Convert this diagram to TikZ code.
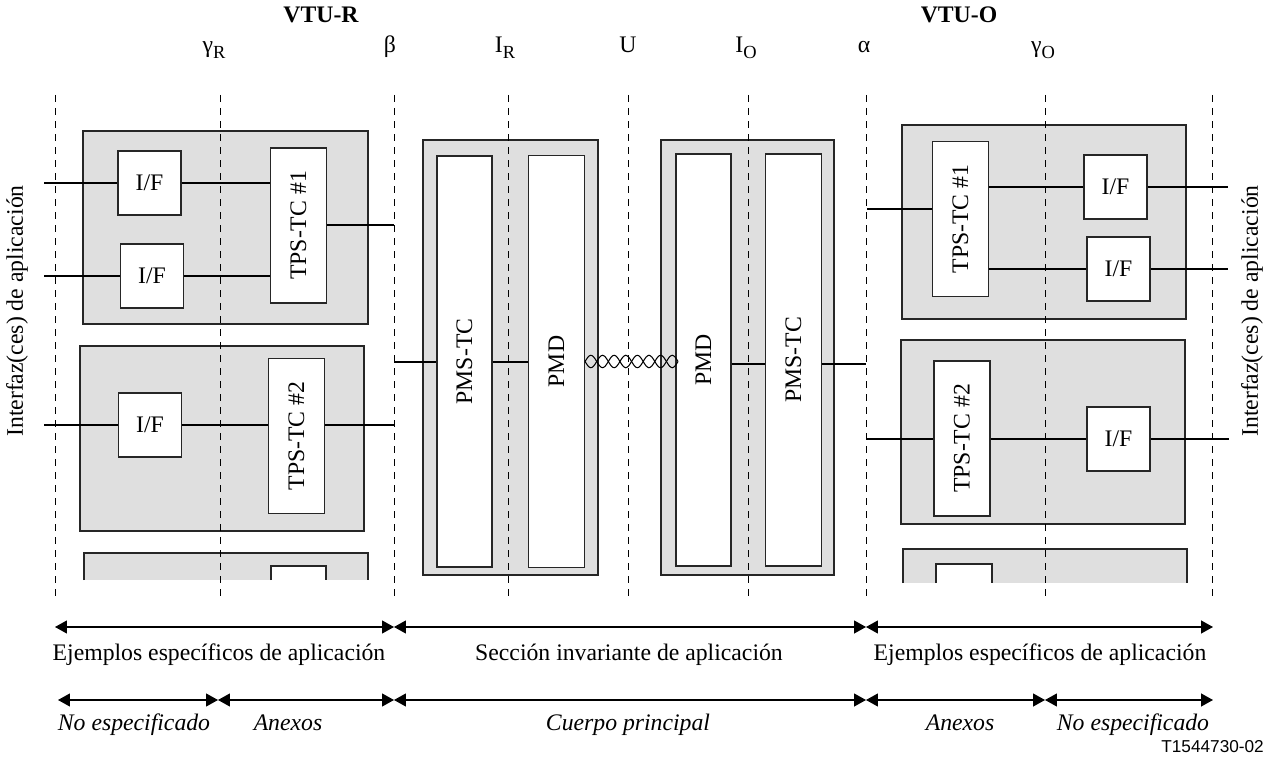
\documentclass[tikz,border=0pt]{standalone}
\usepackage{fontspec}
\setmainfont{Liberation Serif}
\newfontfamily\codefont{Liberation Sans}
\usepackage{graphicx}
\usetikzlibrary{arrows.meta, positioning}
\definecolor{boxgray}{HTML}{DFDFDF}
\newcommand{\vt}[1]{\rotatebox{90}{#1}}
\newcommand{\reflab}[2]{#1\raisebox{-0.55ex}{\fontsize{10.5}{10.5}\selectfont #2}}

\begin{document}
\begin{tikzpicture}[x=0.02cm, y=-0.02cm,
  font=\fontsize{13.5}{16}\selectfont,
  grp/.style={draw=black!85, fill=boxgray, line width=0.8pt, inner sep=0pt},
  cut/.style={draw=black!85, line width=0.8pt},
  blk/.style={draw=black!85, fill=white, line width=0.8pt, inner sep=0pt},
  ifbox/.style={blk, minimum width=1.26cm, minimum height=1.28cm},
  tpsbox/.style={blk, minimum width=1.12cm, minimum height=3.1cm},
  wire/.style={line width=0.7pt},
  guide/.style={line width=0.5pt, dash pattern=on 4pt off 3.4pt},
  txt/.style={anchor=base},
  scopetxt/.style={anchor=base, font=\fontsize{13.5}{16}\selectfont\itshape},
  dimline/.style={line width=0.6pt, {Triangle[length=6.8pt,width=7.4pt]}-{Triangle[length=6.8pt,width=7.4pt]}}]
\useasboundingbox (0,0) rectangle (1276,760);

% shaded groups
\node[grp, minimum width=5.7cm, minimum height=3.86cm] (grp_a) at (225.5,227.5) {};
\node[grp, minimum width=5.68cm, minimum height=3.7cm] (grp_b) at (222,438.5) {};
\node[grp, minimum width=3.5cm, minimum height=8.7cm] (sh_r) at (510.5,357.5) {};
\node[grp, minimum width=3.46cm, minimum height=8.7cm] (sh_o) at (747.5,357.5) {};
\node[grp, minimum width=5.68cm, minimum height=3.88cm] (grp_d) at (1044,222) {};
\node[grp, minimum width=5.68cm, minimum height=3.68cm] (grp_e) at (1043,432) {};
\fill[boxgray] (84,553) rectangle (368,580);
\draw[cut] (84,580) |- (368,553) -- (368,580);
\fill[white] (271,566) rectangle (326,580);
\draw[cut] (271,580) |- (326,566) -- (326,580);
\fill[boxgray] (903,549) rectangle (1187,583);
\draw[cut] (903,583) |- (1187,549) -- (1187,583);
\fill[white] (936,564) rectangle (992,583);
\draw[cut] (936,583) |- (992,564) -- (992,583);

% reference points
\foreach \x/\n in {55/g_0, 220/g_r, 394/beta, 508/i_r, 628/u, 748/i_o, 866/alpha, 1045/g_o, 1212/g_1}
  \draw[guide] (\x,95) coordinate (\n) -- (\x,602);
\node[txt] (l_gr) at (214,53) {\reflab{γ}{R}};
\node[txt] (l_beta) at (390,53) {β};
\node[txt] (l_ir) at (505,53) {\reflab{I}{R}};
\node[txt] (l_u) at (628,53) {U};
\node[txt] (l_io) at (746,53) {\reflab{I}{O}};
\node[txt] (l_alpha) at (864,53) {α};
\node[txt] (l_go) at (1043,53) {\reflab{γ}{O}};
\node[txt, font=\fontsize{13.5}{16}\selectfont\bfseries] (vtu_r) at (321,23) {VTU-R};
\node[txt, font=\fontsize{13.5}{16}\selectfont\bfseries] (vtu_o) at (959,23) {VTU-O};

% VTU-R side
\node[ifbox] (if_a1) at (149.5,183) {I/F};
\node[ifbox] (if_a2) at (152,276) {I/F};
\node[tpsbox] (tps_a1) at (298.5,225.5) {\vt{TPS-TC \#1}};
\node[ifbox] (if_b) at (150,425) {I/F};
\node[tpsbox] (tps_b) at (296.5,436) {\vt{TPS-TC \#2}};
\node[blk, minimum width=1.1cm, minimum height=8.22cm] (pms_r) at (464.5,361.5) {\vt{PMS-TC}};
\node[blk, minimum width=1.12cm, minimum height=8.24cm] (pmd_r) [right=0.7cm of pms_r] {\vt{PMD}};

% VTU-O side
\node[blk, minimum width=1.1cm, minimum height=8.24cm] (pmd_o) at (703.5,360) {\vt{PMD}};
\node[blk, minimum width=1.12cm, minimum height=8.24cm] (pms_o) [right=0.66cm of pmd_o] {\vt{PMS-TC}};
\node[tpsbox] (tps_d1) at (960.5,219) {\vt{TPS-TC \#1}};
\node[ifbox] (if_d1) at (1115.5,187) {I/F};
\node[ifbox] (if_d2) at (1118.5,269) {I/F};
\node[tpsbox] (tps_e) at (962,438.5) {\vt{TPS-TC \#2}};
\node[ifbox] (if_e) at (1118.5,439) {I/F};

\node[rotate=90] (app_r) at (17,311) {Interfaz(ces) de aplicación};
\node[rotate=90] (app_o) at (1252,311) {Interfaz(ces) de aplicación};

% free ends
\coordinate (in_a1) at (44,183);
\coordinate (in_a2) at (44,276);
\coordinate (in_b) at (44,425);
\coordinate (out_a1) at (394,225);
\coordinate (out_b) at (394,425);
\coordinate (in_r) at (394,362);
\coordinate (out_o) at (866,364);
\coordinate (in_d1) at (867,209);
\coordinate (in_e) at (866,439);
\coordinate (out_d1) at (1228,187);
\coordinate (out_d2) at (1228,269);
\coordinate (out_e) at (1229,439);

\path[wire]
  (in_a1) edge (if_a1)
  (if_a1) edge (if_a1 -| tps_a1.west)
  (in_a2) edge (if_a2)
  (if_a2) edge (if_a2 -| tps_a1.west)
  (tps_a1.east |- out_a1) edge (out_a1)
  (in_b) edge (if_b)
  (if_b) edge (if_b -| tps_b.west)
  (tps_b.east |- out_b) edge (out_b)
  (in_r) edge (in_r -| pms_r.west)
  (pms_r.east |- in_r) edge (in_r -| pmd_r.west)
  (out_o -| pmd_o.east) edge (out_o -| pms_o.west)
  (out_o -| pms_o.east) edge (out_o)
  (in_d1) edge (in_d1 -| tps_d1.west)
  (if_d1 -| tps_d1.east) edge (if_d1)
  (if_d1) edge (out_d1)
  (if_d2 -| tps_d1.east) edge (if_d2)
  (if_d2) edge (out_d2)
  (in_e) edge (in_e -| tps_e.west)
  (if_e -| tps_e.east) edge (if_e)
  (if_e) edge (out_e);

% twisted pair
\draw[line width=0.6pt] (pmd_r.east) \foreach \k in {1,...,4} { sin ++(5.81,-6.2) cos ++(5.81,6.2) sin ++(5.81,6.2) cos ++(5.81,-6.2) };
\draw[line width=0.6pt] (pmd_r.east) \foreach \k in {1,...,4} { sin ++(5.81,6.2) cos ++(5.81,-6.2) sin ++(5.81,-6.2) cos ++(5.81,6.2) };

% scope arrows
\coordinate (a_0) at (55,627);
\coordinate (a_1) at (394,627);
\coordinate (a_2) at (866,627);
\coordinate (a_3) at (1213,627);
\draw[dimline] (a_0) -- (a_1);
\draw[dimline] (a_1) -- (a_2);
\draw[dimline] (a_2) -- (a_3);
\node[txt] (t_ex_r) at (219,660) {Ejemplos específicos de aplicación};
\node[txt] (t_inv) at (629,660) {Sección invariante de aplicación};
\node[txt] (t_ex_o) at (1040,660) {Ejemplos específicos de aplicación};

\coordinate (b_0) at (58,700);
\coordinate (b_1) at (218,700);
\coordinate (b_2) at (394,700);
\coordinate (b_3) at (866,700);
\coordinate (b_4) at (1045,700);
\coordinate (b_5) at (1213,700);
\foreach \p/\q in {b_0/b_1, b_1/b_2, b_2/b_3, b_3/b_4, b_4/b_5}
  \draw[dimline] (\p) -- (\q);
\node[scopetxt] (t_ns_r) at (134,730) {No especificado};
\node[scopetxt] (t_an_r) at (288,730) {Anexos};
\node[scopetxt] (t_body) at (628,730) {Cuerpo principal};
\node[scopetxt] (t_an_o) at (960,730) {Anexos};
\node[scopetxt] (t_ns_o) at (1133,730) {No especificado};

\node[font=\codefont\fontsize{9.8}{11}\selectfont, anchor=base east] (fig_id) at (1270,752) {T1544730-02};
\end{tikzpicture}
\end{document}
